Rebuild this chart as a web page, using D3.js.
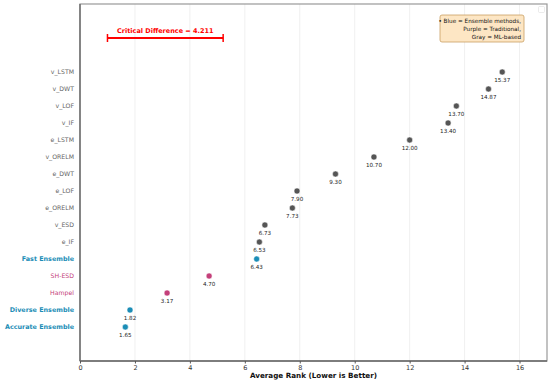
<!DOCTYPE html>
<html><head><meta charset="utf-8">
<script src="https://cdn.jsdelivr.net/npm/d3@7"></script>
<style>body{margin:0;background:#fff}svg{display:block}text{font-family:"DejaVu Sans",sans-serif}</style>
</head><body>
<svg id="c" width="550" height="383"></svg>
<script>
const methods = ["Accurate Ensemble","Diverse Ensemble","Hampel","SH-ESD","Fast Ensemble","e_IF","v_ESD","e_ORELM","e_LOF","e_DWT","v_ORELM","e_LSTM","v_IF","v_LOF","v_DWT","v_LSTM"];
const ranks = [1.65,1.82,3.17,4.70,6.43,6.53,6.73,7.73,7.90,9.30,10.70,12.00,13.40,13.70,14.87,15.37];
const groups = ["ens","ens","trad","trad","ens","ml","ml","ml","ml","ml","ml","ml","ml","ml","ml","ml"];
const xTicks = [0,2,4,6,8,10,12,14,16];
const cdStart = 1.0, cdValue = 4.211;
const legendLines = ["• Blue = Ensemble methods,","Purple = Traditional,","Gray = ML-based"];

const colors = {ens:"#1b8db6", trad:"#c4407a", ml:"#555555"};
const svg = d3.select("#c");
const L=80, R=547, T=4, B=361;
const x = d3.scaleLinear().domain([0,17]).range([L,R]);
const y = d3.scaleLinear().domain([-2,19]).range([B,T]);

// grid
svg.append("g").selectAll("line").data(xTicks).join("line")
  .attr("x1",d=>x(d)).attr("x2",d=>x(d)).attr("y1",T).attr("y2",B)
  .attr("stroke","#e6e6e6").attr("stroke-width",0.6);

// frame
svg.append("rect").attr("x",L).attr("y",T).attr("width",R-L).attr("height",B-T)
  .attr("fill","none").attr("stroke","#999").attr("stroke-width",1.2);
svg.append("line").attr("x1",L).attr("x2",L).attr("y1",T).attr("y2",B).attr("stroke","#666").attr("stroke-width",1.3);
svg.append("line").attr("x1",L).attr("x2",R).attr("y1",B).attr("y2",B).attr("stroke","#666").attr("stroke-width",1.3);

// x axis
const xa = svg.append("g").attr("transform",`translate(0,${B})`)
  .call(d3.axisBottom(x).tickValues(xTicks).tickSize(2.5).tickPadding(2).tickFormat(d3.format("d")));
xa.select(".domain").remove();
xa.selectAll("line").attr("stroke","#555");
xa.selectAll("text").attr("font-size",6.5).attr("fill","#333").attr("font-family","DejaVu Sans");
svg.append("text").attr("x",(L+R)/2).attr("y",378).attr("text-anchor","middle")
  .attr("font-size",7.2).attr("font-weight","bold").attr("fill","#111").text("Average Rank (Lower is Better)");

// y labels
const idx = d3.range(methods.length);
svg.append("g").selectAll("text").data(idx).join("text")
  .attr("x",L-6).attr("y",i=>y(i)).attr("dy","0.35em").attr("text-anchor","end")
  .attr("font-size",i=>groups[i]==="ens"?6.4:6.2)
  .attr("font-weight",i=>groups[i]==="ens"?"bold":"normal")
  .attr("fill",i=>groups[i]==="ens"?colors.ens:(groups[i]==="trad"?colors.trad:"#666"))
  .text(i=>methods[i]);

// points
svg.append("g").selectAll("circle").data(idx).join("circle")
  .attr("cx",i=>x(ranks[i])).attr("cy",i=>y(i)).attr("r",3)
  .attr("fill",i=>colors[groups[i]]).attr("stroke","#fff").attr("stroke-width",0.5);
svg.append("g").selectAll("text").data(idx).join("text")
  .attr("x",i=>x(ranks[i])).attr("y",i=>y(i)+10).attr("text-anchor","middle")
  .attr("font-size",5.6).attr("fill","#222").text(i=>ranks[i].toFixed(2));

// CD bar
const cdY = y(17);
svg.append("line").attr("x1",x(cdStart)).attr("x2",x(cdStart+cdValue)).attr("y1",cdY).attr("y2",cdY)
  .attr("stroke","red").attr("stroke-width",2);
[cdStart, cdStart+cdValue].forEach(v=>svg.append("line").attr("x1",x(v)).attr("x2",x(v))
  .attr("y1",cdY-4).attr("y2",cdY+4).attr("stroke","red").attr("stroke-width",1.5));
svg.append("text").attr("x",x(cdStart+cdValue/2)).attr("y",cdY-5).attr("text-anchor","middle")
  .attr("font-size",6.5).attr("font-weight","bold").attr("fill","red")
  .text("Critical Difference = "+cdValue.toFixed(3));

// legend note
svg.append("rect").attr("x",440).attr("y",15).attr("width",84).attr("height",27).attr("rx",2)
  .attr("fill","#fde6c4").attr("stroke","#c9a063").attr("stroke-width",0.8);
svg.append("g").selectAll("text").data(legendLines).join("text")
  .attr("x",521).attr("y",(d,i)=>22.5+i*8).attr("text-anchor","end")
  .attr("font-size",5.7).attr("fill","#111").text(d=>d);

// empty legend box
svg.append("rect").attr("x",538.5).attr("y",6.5).attr("width",6).attr("height",6).attr("rx",1)
  .attr("fill","#fff").attr("stroke","#ddd").attr("stroke-width",0.6);
</script>
</body></html>
